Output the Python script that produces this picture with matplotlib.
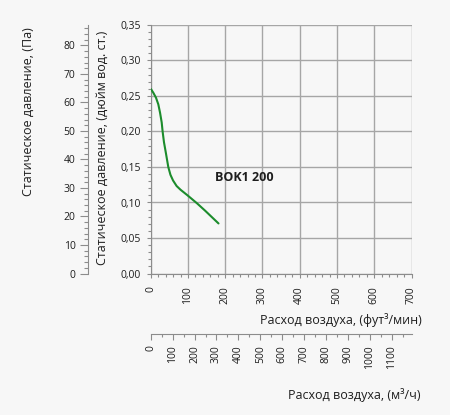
import matplotlib
matplotlib.use("Agg")
import matplotlib.pyplot as plt
from matplotlib.ticker import MultipleLocator, FuncFormatter

# ---- data ----
cfm = [0.8, 7, 14.2, 20.4, 25, 29.5, 32, 35.6, 41, 47.2, 53, 60, 69.6, 80, 90,
       99, 124, 146, 164, 182]
inwg = [0.2597, 0.2546, 0.2476, 0.2383, 0.2267, 0.2128, 0.200, 0.185, 0.169,
        0.150, 0.139, 0.131, 0.1232, 0.118, 0.1138, 0.110, 0.099, 0.0885,
        0.0795, 0.0705]
curve_label = "BOK1 200"
label_pos = (172, 0.1356)

x_max_cfm = 700
y_max_in = 0.35
PA_PER_IN = 249.09
M3H_PER_CFM = 1.699

ylabel_pa = "Статическое давление, (Па)"
ylabel_in = "Статическое давление, (дюйм вод. ст.)"
xlabel_cfm = "Расход воздуха, (фут³/мин)"
xlabel_m3h = "Расход воздуха, (м³/ч)"

bg = "#f7f7f7"
grid_c = "#a6a6a6"
spine_c = "#8c8c8c"
text_c = "#1e1e1e"
green = "#1c8c2c"

plt.rcParams['font.family'] = ['Open Sans', 'DejaVu Sans']
plt.rcParams['lines.solid_joinstyle'] = 'round'

W, H = 450, 415
fig = plt.figure(figsize=(W / 100, H / 100), dpi=100, facecolor=bg)
L, R = 150.7 / W, 411.5 / W
B, T = 1 - 273.5 / H, 1 - 25 / H
ax = fig.add_axes([L, B, R - L, T - B])
ax.set_facecolor(bg)

ax.plot(cfm, inwg, color=green, lw=1.5, zorder=3, solid_capstyle='round')
ax.text(label_pos[0], label_pos[1], curve_label, fontsize=9, fontweight='bold',
        color=text_c, va='center', ha='left')

ax.set_xlim(0, x_max_cfm)
ax.set_ylim(0, y_max_in)
ax.xaxis.set_major_locator(MultipleLocator(100))
ax.xaxis.set_minor_locator(MultipleLocator(20))
ax.yaxis.set_major_locator(MultipleLocator(0.05))
ax.yaxis.set_minor_locator(MultipleLocator(0.01))
ax.yaxis.set_major_formatter(FuncFormatter(lambda v, p: f"{v:.2f}".replace('.', ',')))
ax.grid(which='major', color=grid_c, lw=1.0, zorder=0)
for s in ['top', 'right']:
    ax.spines[s].set_visible(False)
for s in ['left', 'bottom']:
    ax.spines[s].set_color(spine_c)
ax.tick_params(axis='x', which='major', length=3, width=0.8, color=spine_c, pad=6,
               labelsize=7.5, labelcolor=text_c, labelrotation=90)
ax.tick_params(axis='x', which='minor', length=2, width=0.8, color=spine_c)
ax.tick_params(axis='y', which='major', length=3, width=0.8, color=spine_c, pad=4,
               labelsize=7.5, labelcolor=text_c)
ax.tick_params(axis='y', which='minor', length=2, width=0.8, color=spine_c)

# Pa axis
ax_pa = ax.twinx()
ax_pa.set_ylim(0, y_max_in * PA_PER_IN)
ax_pa.spines['right'].set_visible(False)
ax_pa.spines['top'].set_visible(False)
ax_pa.spines['bottom'].set_visible(False)
ax_pa.spines['left'].set_visible(True)
ax_pa.spines['left'].set_position(('axes', (88 - 150.7) / (411.5 - 150.7)))
ax_pa.spines['left'].set_color(spine_c)
ax_pa.yaxis.set_ticks_position('left')
ax_pa.yaxis.set_label_position('left')
ax_pa.yaxis.set_major_locator(MultipleLocator(10))
ax_pa.yaxis.set_minor_locator(MultipleLocator(2))
ax_pa.tick_params(axis='y', which='major', length=6, width=0.8, color=spine_c, pad=3,
                  labelsize=7.5, labelcolor=text_c)
ax_pa.tick_params(axis='y', which='minor', length=3, width=0.8, color=spine_c)

# m3/h axis
ax_m = ax.twiny()
ax_m.set_xlim(0, x_max_cfm * M3H_PER_CFM)
ax_m.spines['top'].set_visible(False)
ax_m.spines['right'].set_visible(False)
ax_m.spines['left'].set_visible(False)
ax_m.spines['bottom'].set_visible(True)
ax_m.spines['bottom'].set_position(('axes', -(334 - 273.5) / (273.5 - 25)))
ax_m.spines['bottom'].set_color(spine_c)
ax_m.xaxis.set_ticks_position('bottom')
ax_m.xaxis.set_label_position('bottom')
ax_m.xaxis.set_major_locator(MultipleLocator(100))
ax_m.xaxis.set_minor_locator(MultipleLocator(50))
ax_m.tick_params(axis='x', which='major', length=4, width=0.8, color=spine_c, pad=4,
                 labelsize=7.5, labelcolor=text_c, labelrotation=90)
ax_m.tick_params(axis='x', which='minor', length=2.5, width=0.8, color=spine_c)

# axis titles
fig.text(28 / W, 1 - 112 / H, ylabel_pa, rotation=90, ha='center', va='center',
         fontsize=9, color=text_c)
fig.text(102 / W, 1 - 147.5 / H, ylabel_in, rotation=90, ha='center', va='center',
         fontsize=9, color=text_c)
fig.text(422 / W, 1 - 320 / H, xlabel_cfm, ha='right', va='center',
         fontsize=9, color=text_c)
fig.text(420 / W, 1 - 395 / H, xlabel_m3h, ha='right', va='center',
         fontsize=9, color=text_c)

fig.savefig("out.png", dpi=100, facecolor=bg)
